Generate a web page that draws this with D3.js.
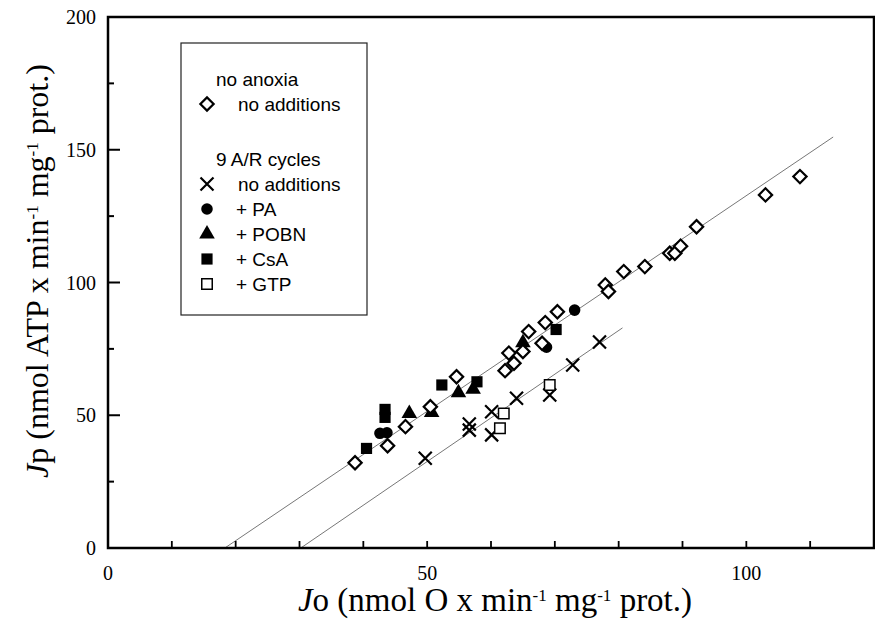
<!DOCTYPE html>
<html><head><meta charset="utf-8">
<script src="https://cdn.jsdelivr.net/npm/d3@7"></script>
<style>body{margin:0;background:#fff}svg{display:block}</style>
</head><body><svg id="c" width="875" height="628"></svg>
<script>
// ---- data (Jo, Jp) ----
const noAnoxiaNoAdd = [[38.7,32.1],[43.8,38.5],[46.6,45.7],[50.5,53.2],[54.6,64.5],[62.2,66.8],[63.6,69.6],[62.8,73.4],[65.0,74.0],[65.9,81.5],[68.0,77.1],[68.5,84.9],[70.4,89.0],[77.9,99.1],[78.4,96.6],[80.8,104.1],[84.1,106.0],[88.0,111.0],[88.8,111.0],[89.7,113.7],[92.2,121.0],[103.0,133.0],[108.4,139.9]];
const arNoAdd = [[49.7,33.8],[56.6,46.7],[56.6,44.4],[60.1,51.3],[60.1,42.6],[64.0,56.4],[69.2,57.6],[72.8,68.9],[77.0,77.6]];
const arPA = [[42.6,43.2],[43.7,43.4],[68.7,75.6],[73.1,89.6]];
const arPOBN = [[47.2,50.7],[50.7,51.0],[54.9,58.5],[57.2,59.8],[65.0,77.3]];
const arCsA = [[40.5,37.5],[43.4,52.2],[43.4,49.2],[52.3,61.4],[57.8,62.6],[70.2,82.3]];
const arGTP = [[61.4,45.1],[62.0,50.7],[69.2,61.4]];
const fitNoAnoxia = [[18.3,0],[113.6,154.8]];
const fitAR = [[30.2,0],[80.6,82.9]];
const xTickLabels = [0,50,100];
const xMinorTicks = [10,20,30,40,50,60,70,80,90,100,110];
const yTickLabels = [0,50,100,150,200];
const yMajorTicks = [50,100,150];
const yMinorTicks = [25,75,125,175];
const legendHeads = ["no anoxia","9 A/R cycles"];
const legendItems = [
  {key:"diamond", label:"no additions"},
  {key:"cross", label:"no additions"},
  {key:"circle", label:"+ PA"},
  {key:"triangle", label:"+ POBN"},
  {key:"square", label:"+ CsA"},
  {key:"open", label:"+ GTP"}
];

// ---- layout ----
const L=108, R=874, T=17, B=548;
const x = d3.scaleLinear().domain([0,120]).range([L,R]);
const y = d3.scaleLinear().domain([0,200]).range([B,T]);
const svg = d3.select("#c");

// fit lines
const line = d3.line().x(d=>x(d[0])).y(d=>y(d[1]));
[fitNoAnoxia, fitAR].forEach(f=>{
  svg.append("path").attr("d", line(f)).attr("fill","none").attr("stroke","#777").attr("stroke-width",1);
});

// symbols
const S = {
  diamond: {d: d3.symbol(d3.symbolSquare, 88)(), rot:45, fill:"#fff", stroke:"#000", sw:2.2},
  cross: {d: "M-6.5,-6.5L6.5,6.5M-6.5,6.5L6.5,-6.5", rot:0, fill:"none", stroke:"#000", sw:2.2},
  circle: {d: d3.symbol(d3.symbolCircle, 105)(), rot:0, fill:"#000", stroke:"none", sw:0},
  triangle: {d: d3.symbol(d3.symbolTriangle, 105)(), rot:0, fill:"#000", stroke:"none", sw:0},
  square: {d: d3.symbol(d3.symbolSquare, 125)(), rot:0, fill:"#000", stroke:"none", sw:0},
  open: {d: d3.symbol(d3.symbolSquare, 110)(), rot:0, fill:"#fff", stroke:"#000", sw:1.5}
};
function draw(g, data, key){
  const s = S[key];
  g.selectAll(null).data(data).enter().append("path")
    .attr("d", s.d)
    .attr("transform", d=>`translate(${x(d[0])},${y(d[1])}) rotate(${s.rot})`)
    .attr("fill", s.fill).attr("stroke", s.stroke).attr("stroke-width", s.sw);
}
const pts = svg.append("g");
draw(pts, arCsA, "square");
draw(pts, arPOBN, "triangle");
draw(pts, arPA, "circle");
draw(pts, arNoAdd, "cross");
draw(pts, arGTP, "open");
draw(pts, noAnoxiaNoAdd, "diamond");

// frame
svg.append("rect").attr("x",L).attr("y",T).attr("width",R-L).attr("height",B-T)
  .attr("fill","none").attr("stroke","#000").attr("stroke-width",2.5);

// ticks
svg.selectAll(".xt").data(xMinorTicks).enter().append("line")
  .attr("x1",d=>x(d)).attr("x2",d=>x(d)).attr("y1",B).attr("y2",B-7)
  .attr("stroke","#000").attr("stroke-width",1.8);
svg.selectAll(".ymj").data(yMajorTicks).enter().append("line")
  .attr("x1",L).attr("x2",L+12).attr("y1",d=>y(d)).attr("y2",d=>y(d))
  .attr("stroke","#000").attr("stroke-width",2);
svg.selectAll(".ymn").data(yMinorTicks).enter().append("line")
  .attr("x1",L).attr("x2",L+6).attr("y1",d=>y(d)).attr("y2",d=>y(d))
  .attr("stroke","#000").attr("stroke-width",2);

const tickFont = "'Liberation Serif', 'Times New Roman', serif";
svg.selectAll(".xl").data(xTickLabels).enter().append("text")
  .attr("x",d=>x(d)).attr("y",580).attr("text-anchor","middle")
  .attr("font-family",tickFont).attr("font-size",20).text(d=>d);
svg.selectAll(".yl").data(yTickLabels).enter().append("text")
  .attr("x",96).attr("y",d=>y(d)+7).attr("text-anchor","end")
  .attr("font-family",tickFont).attr("font-size",20).text(d=>d);

// axis titles
function title(t, parts){
  parts.forEach(p=>{
    const ts = t.append("tspan").text(p.t);
    if(p.i) ts.attr("font-style","italic");
    if(p.sup) ts.attr("font-size",17).attr("baseline-shift","60%");
  });
}
const xt = svg.append("text").attr("x",495).attr("y",611).attr("text-anchor","middle")
  .attr("font-family",tickFont).attr("font-size",33);
title(xt,[{t:"J",i:1},{t:"o (nmol O x min"},{t:"-1",sup:1},{t:" mg"},{t:"-1",sup:1},{t:" prot.)"}]);
const yt = svg.append("text").attr("transform","translate(48,271) rotate(-90)").attr("text-anchor","middle")
  .attr("font-family",tickFont).attr("font-size",32);
title(yt,[{t:"J",i:1},{t:"p (nmol ATP x min"},{t:"-1",sup:1},{t:" mg"},{t:"-1",sup:1},{t:" prot.)"}]);

// legend
const lg = svg.append("g");
lg.append("rect").attr("x",181).attr("y",43).attr("width",186).attr("height",272)
  .attr("fill","#fff").attr("stroke","#222").attr("stroke-width",1.2);
const lf = "'Liberation Sans', Arial, sans-serif";
const headY = [79,159];
legendHeads.forEach((h,i)=>{
  lg.append("text").attr("x",216).attr("y",headY[i]+7).attr("font-family",lf).attr("font-size",19).text(h);
});
const rowY = [104,184,209,234,259,284];
legendItems.forEach((it,i)=>{
  const s = S[it.key];
  lg.append("path").attr("d",s.d).attr("transform",`translate(207,${rowY[i]}) rotate(${s.rot})`)
    .attr("fill",s.fill).attr("stroke",s.stroke).attr("stroke-width",s.sw);
  lg.append("text").attr("x",i<2?238:236).attr("y",rowY[i]+7).attr("font-family",lf).attr("font-size",19).text(it.label);
});
</script></body></html>
